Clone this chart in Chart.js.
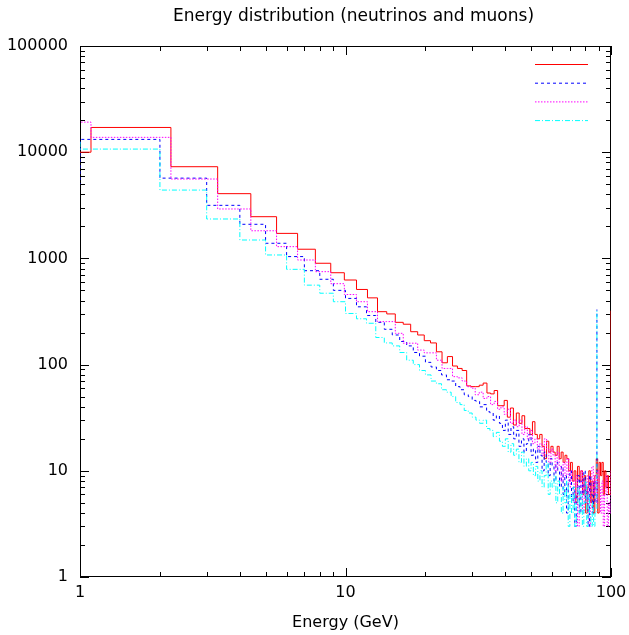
<!DOCTYPE html>
<html>
<head>
<meta charset="utf-8">
<script src="https://cdn.jsdelivr.net/npm/chart.js@4.4.0/dist/chart.umd.min.js"></script>
<style>
  html, body { margin: 0; padding: 0; background: #fff; }
  #wrap { width: 629px; height: 635px; }
</style>
</head>
<body>
<div id="wrap"><canvas id="chart" width="629" height="635"></canvas></div>
<script>
// --- data ---
// neutrino-type curves (red, magenta): bins 1.1 GeV wide, bin k starts at k*1.1
const nuBinWidth = 1.1;
const redCounts = [
  10000, 17100, 7300, 4070, 2470, 1720, 1220, 900, 733, 626,
  510, 425, 315, 300, 250, 240, 204, 190, 168, 160,
  132, 104, 119, 97, 92, 88, 63, 62, 62, 64,
  67, 54, 53, 57, 41, 41, 46, 32, 39, 27,
  35, 28, 33, 25, 25, 22, 29, 22, 20, 22,
  17, 13, 19, 15, 17, 15, 14, 17, 13, 15,
  12, 14, 13, 10, 12, 8, 10, 5, 11, 8,
  10, 6, 9, 4, 7, 10, 5, 8, 4, 9,
  13, 4, 12, 9, 12, 6, 10, 7, 9, 6,
  6
];
const magentaCounts = [
  19200, 13800, 5590, 2920, 1820, 1290, 966, 750, 578, 457,
  391, 315, 254, 254, 197, 159, 159, 137, 129, 129,
  110, 92, 92, 77, 75, 70, 62, 60, 52, 55,
  48, 50, 42, 45, 38, 40, 34, 38, 28, 30,
  26, 30, 22, 26, 20, 24, 18, 20, 16, 18,
  14, 20, 16, 12, 16, 14, 10, 15, 11, 8,
  12, 9, 13, 7, 10, 8, 5, 9, 3, 7,
  10, 4, 8, 5, 9, 3, 7, 11, 6, 9,
  5, 10, 7, 4, 8, 3, 6, 9, 3, 5,
  4
];
const redOverflow = 322;
const magentaOverflow = 10;

// muon-type curves (blue, cyan): 1 GeV bins, bin n starts at n
const blueCounts = [
  5000, 13200, 5700, 3160, 2095, 1388, 1040, 766, 636, 500,
  420, 350, 290, 250, 215, 190, 165, 150, 130, 120,
  105, 95, 88, 80, 72, 70, 62, 58, 52, 50,
  46, 45, 40, 42, 36, 35, 30, 33, 28, 24,
  30, 22, 26, 20, 24, 17, 20, 15, 18, 22,
  14, 16, 12, 17, 14, 10, 15, 12, 9, 13,
  11, 8, 12, 10, 7, 11, 6, 9, 4, 8,
  10, 5, 7, 3, 6, 9, 4, 8, 6, 10,
  5, 7, 3, 9, 6, 4, 8, 5
];
const cyanCounts = [
  12500, 10700, 4400, 2350, 1490, 1077, 789, 560, 470, 391,
  303, 270, 245, 180, 160, 150, 130, 110, 100, 88,
  80, 70, 66, 58, 55, 50, 44, 42, 37, 35,
  32, 30, 28, 30, 25, 24, 21, 23, 19, 17,
  20, 15, 18, 14, 16, 12, 15, 11, 13, 10,
  12, 9, 11, 8, 10, 7, 9, 12, 6, 8,
  7, 9, 5, 8, 6, 4, 7, 5, 8, 3,
  6, 4, 7, 3, 5, 7, 4, 6, 3, 5,
  8, 3, 6, 4, 3, 5, 3, 4
];
const blueOverflow = 330;
const cyanOverflow = 325;

const xTickLabels = [1, 10, 100];
const yTickLabels = [1, 10, 100, 1000, 10000, 100000];
const titleText = 'Energy distribution (neutrinos and muons)';
const xAxisTitle = 'Energy (GeV)';

const FONT = 'DejaVu Sans';

function nuPoints(counts, overflow) {
    // first bin starts below the axis minimum, it gets clipped
    const pts = counts.map((c, k) => ({ x: k === 0 ? 0.5 : +(k * nuBinWidth).toFixed(1), y: c }));
    pts.push({ x: 100, y: overflow });
    return pts;
}

function muPoints(counts, overflow) {
    const pts = counts.map((c, n) => ({ x: n === 0 ? 0.5 : n, y: c }));
    pts.push({ x: counts.length + 0.5, y: overflow });
    return pts;
}

function lineSet(data, color, dash, order) {
    return {
        label: '',
        data: data,
        borderColor: color,
        borderWidth: 1,
        borderDash: dash,
        stepped: true,
        pointRadius: 0,
        fill: false,
        order: order
    };
}

// gnuplot-ish frame: box, inward ticks on all four sides, title and key samples
const gnuplotFrame = {
    id: 'gnuplotFrame',
    beforeDatasetsDraw(chart) {
        const { ctx, chartArea: a, scales: { x, y } } = chart;
        ctx.save();
        ctx.strokeStyle = '#000';
        ctx.lineWidth = 1;
        ctx.strokeRect(a.left + 0.5, a.top + 0.5, a.right - a.left - 1, a.bottom - a.top - 1);

        ctx.beginPath();
        for (let d = 1; d < 100; d *= 10) {
            for (let m = 1; m <= 10; m++) {
                const px = Math.round(x.getPixelForValue(d * m)) + 0.5;
                const len = (m === 1 || m === 10) ? 9 : 5;
                ctx.moveTo(px, a.bottom); ctx.lineTo(px, a.bottom - len);
                ctx.moveTo(px, a.top); ctx.lineTo(px, a.top + len);
            }
        }
        for (let d = 1; d < 100000; d *= 10) {
            for (let m = 1; m <= 10; m++) {
                const py = Math.round(y.getPixelForValue(d * m)) + 0.5;
                const len = (m === 1 || m === 10) ? 9 : 5;
                ctx.moveTo(a.left, py); ctx.lineTo(a.left + len, py);
                ctx.moveTo(a.right, py); ctx.lineTo(a.right - len, py);
            }
        }
        ctx.stroke();

        ctx.fillStyle = '#000';
        ctx.font = '17px "' + FONT + '"';
        ctx.textAlign = 'center';
        ctx.textBaseline = 'middle';
        ctx.fillText(titleText, (a.left + a.right) / 2 + 8, 17);
        ctx.restore();
    },
    afterDatasetsDraw(chart) {
        const { ctx, chartArea: a } = chart;
        ctx.save();
        chart.data.datasets.forEach((ds, i) => {
            const yy = a.top + 18.5 + i * 18.7;
            ctx.strokeStyle = ds.borderColor;
            ctx.lineWidth = 1;
            ctx.setLineDash(ds.borderDash || []);
            ctx.beginPath();
            ctx.moveTo(a.right - 76, yy);
            ctx.lineTo(a.right - 23, yy);
            ctx.stroke();
        });
        ctx.restore();
    }
};

const ctx = document.getElementById('chart').getContext('2d');
new Chart(ctx, {
    type: 'line',
    data: {
        datasets: [
            lineSet(nuPoints(redCounts, redOverflow), '#ff0000', [], 3),
            lineSet(muPoints(blueCounts, blueOverflow), '#0000ff', [3, 3], 2),
            lineSet(nuPoints(magentaCounts, magentaOverflow), '#ff00ff', [1.5, 1.5], 1),
            lineSet(muPoints(cyanCounts, cyanOverflow), '#00ffff', [5, 2, 1, 2], 0)
        ]
    },
    options: {
        responsive: false,
        animation: false,
        events: [],
        layout: { padding: { top: 46, right: 18, left: 0, bottom: 0 } },
        plugins: {
            legend: { display: false },
            tooltip: { enabled: false },
            title: { display: false }
        },
        scales: {
            x: {
                type: 'logarithmic', min: 1, max: 100, position: 'bottom',
                afterFit: s => { s.height = 58; s.paddingLeft = 0; s.paddingRight = 0; },
                afterBuildTicks: s => { s.ticks = xTickLabels.map(v => ({ value: v })); },
                ticks: {
                    color: '#000', font: { family: FONT, size: 16 }, padding: 6,
                    autoSkip: false, maxRotation: 0, callback: v => String(v)
                },
                grid: { display: false, drawTicks: false },
                border: { display: false },
                title: {
                    display: true, text: xAxisTitle, color: '#000',
                    font: { family: FONT, size: 16 }, padding: { top: 0, bottom: 3 }
                }
            },
            y: {
                type: 'logarithmic', min: 1, max: 100000, position: 'left',
                afterFit: s => { s.width = 80; s.paddingTop = 0; s.paddingBottom = 0; },
                afterBuildTicks: s => { s.ticks = yTickLabels.map(v => ({ value: v })); },
                ticks: {
                    color: '#000', font: { family: FONT, size: 16 }, padding: 12,
                    autoSkip: false, callback: v => String(v)
                },
                grid: { display: false, drawTicks: false },
                border: { display: false }
            }
        }
    },
    plugins: [gnuplotFrame]
});
</script>
</body>
</html>
